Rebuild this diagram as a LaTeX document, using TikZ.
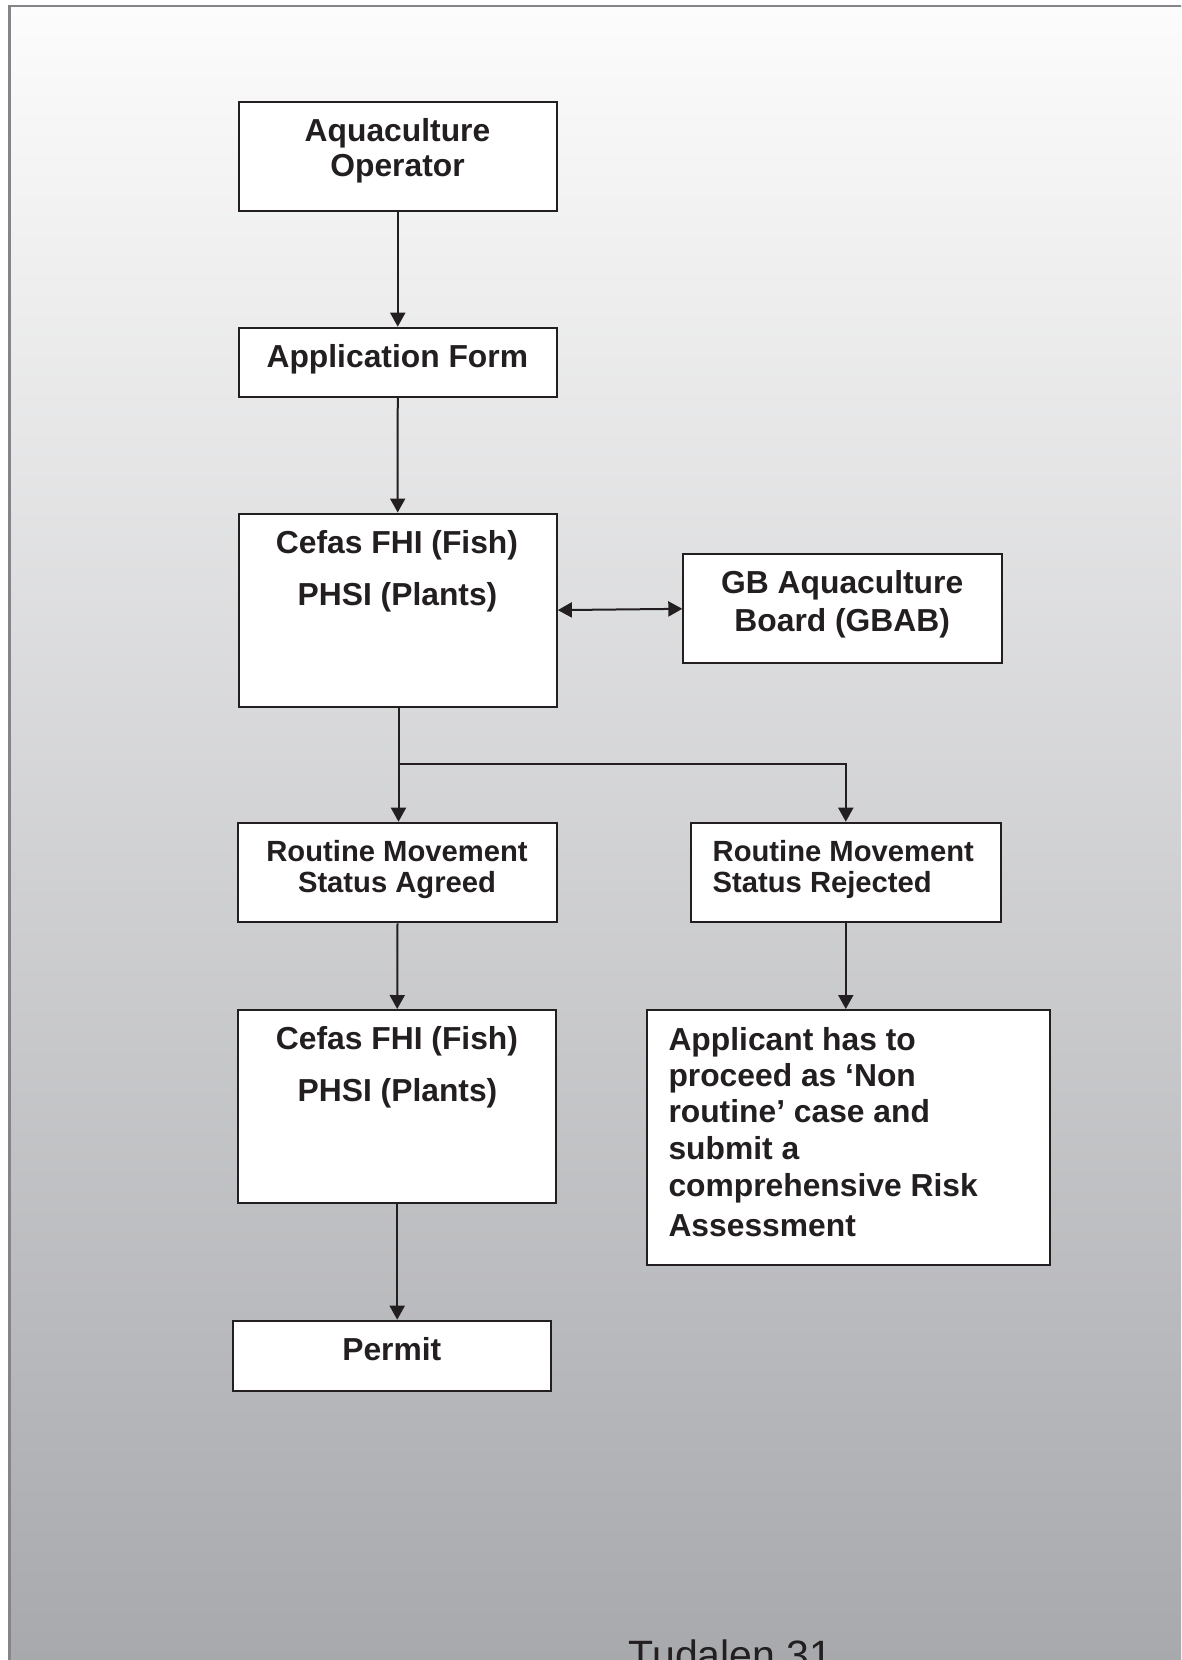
\documentclass[tikz,border=0pt]{standalone}
\usepackage{fontspec}
\setmainfont{Liberation Sans}
\usetikzlibrary{arrows.meta}
\definecolor{ink}{RGB}{35,31,32}
\definecolor{bgtop}{RGB}{252,252,252}
\definecolor{bgmid}{RGB}{214,215,217}
\definecolor{bgbot}{RGB}{167,168,172}
\definecolor{framegray}{RGB}{133,133,137}
\tikzset{
  box/.style={draw=ink, fill=white, line width=2pt, inner sep=0pt, rectangle},
  lbl/.style={inner sep=0pt, anchor=base, text=ink, font=\fontsize{31.8}{35}\selectfont\bfseries},
  lblsmall/.style={lbl, font=\fontsize{29.2}{32}\selectfont\bfseries},
  lblleft/.style={lbl, anchor=base west},
  tip/.style={-{Triangle[length=14pt,width=15pt]}},
  conn/.style={draw=ink, line width=2pt, tip},
  plainline/.style={draw=ink, line width=2pt},
  dbl/.style={draw=ink, line width=2pt, {Triangle[length=14pt,width=15pt]}-{Triangle[length=14pt,width=15pt]}},
}
\begin{document}
\begin{tikzpicture}[x=1pt,y=-1pt]
\useasboundingbox (0,0) rectangle (1181,1660);
\clip (0,0) rectangle (1181,1660);
\fill[white] (0,0) rectangle (1181,1660);
\shade[top color=bgtop, middle color=bgmid, bottom color=bgbot] (9.5,6) rectangle (1200,1680);
\draw[framegray, line width=2.5pt] (9.5,1680) -- (9.5,6) -- (1200,6);

% boxes
\node[box, minimum width=318.5pt, minimum height=108.7pt] (op) at (397.75,156.35) {};
\node[box, minimum width=318.5pt, minimum height=68.8pt] (app) at (397.75,362.1) {};
\node[box, minimum width=318.3pt, minimum height=193.2pt] (cef1) at (397.7,610.1) {};
\node[box, minimum width=318.2pt, minimum height=109pt] (gbab) at (842.4,608.8) {};
\node[box, minimum width=318.4pt, minimum height=99.6pt] (agr) at (397.5,872.5) {};
\node[box, minimum width=310.4pt, minimum height=99.6pt] (rej) at (845.8,872.5) {};
\node[box, minimum width=317.7pt, minimum height=192.7pt] (cef2) at (397.2,1106.35) {};
\node[box, minimum width=403pt, minimum height=255pt] (appl) at (848.8,1137.5) {};
\node[box, minimum width=318pt, minimum height=70pt] (permit) at (391.5,1355.7) {};

% texts
\node[lbl] (op1) at (397.5,141.7) {Aquaculture};
\node[lbl] (op2) at (397.5,176.7) {Operator};
\node[lbl] (app1) at (397.3,367.7) {Application Form};
\node[lbl] (cef1a) at (397,553.3) {Cefas FHI (Fish)};
\node[lbl] (cef1b) at (397.5,605) {PHSI (Plants)};
\node[lbl] (gb1) at (842.2,593.3) {GB Aquaculture};
\node[lbl] (gb2) at (842.2,631.7) {Board (GBAB)};
\node[lblsmall] (agr1) at (397,861.7) {Routine Movement};
\node[lblsmall] (agr2) at (397,892.7) {Status Agreed};
\node[lblsmall, anchor=base west] (rej1) at (712.5,861.7) {Routine Movement};
\node[lblsmall, anchor=base west] (rej2) at (712.5,892.7) {Status Rejected};
\node[lbl] (cef2a) at (397,1049.5) {Cefas FHI (Fish)};
\node[lbl] (cef2b) at (397.5,1101.7) {PHSI (Plants)};
\node[lblleft] (ap1) at (668.3,1050) {Applicant has to};
\node[lblleft] (ap2) at (668.3,1086) {proceed as ‘Non};
\node[lblleft] (ap3) at (668.3,1122.7) {routine’ case and};
\node[lblleft] (ap4) at (668.3,1159.3) {submit a};
\node[lblleft] (ap5) at (668.3,1196) {comprehensive Risk};
\node[lblleft] (ap6) at (668.3,1236) {Assessment};
\node[lbl] (per1) at (391.8,1360) {Permit};
\node[inner sep=0pt, anchor=base west, text=ink, font=\fontsize{41}{45}\selectfont] (page) at (628.6,1669.5) {Tudalen 31};

% connectors
\coordinate (split) at (398.5,764);
\draw[conn] (op.south) -- (app.north);
\draw[conn] (app.south) -- (cef1.north);
\draw[dbl] (cef1.east) -- (gbab.west);
\draw[plainline] (cef1.south -| split) -- (split);
\draw[conn] (split) -- (split |- agr.north);
\draw[conn] (split) -| (rej.north);
\draw[conn] (rej.south) -- (rej.south |- appl.north);
\draw[conn] (agr.south) -- (cef2.north);
\draw[conn] (cef2.south) -- (cef2.south |- permit.north);
\end{tikzpicture}
\end{document}
